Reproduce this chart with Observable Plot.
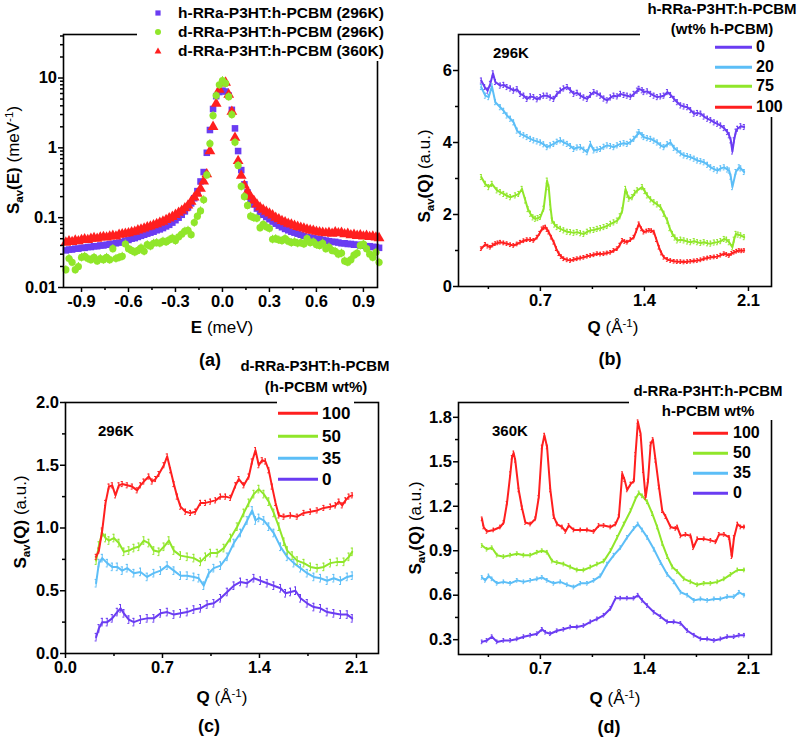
<!DOCTYPE html>
<html><head><meta charset="utf-8">
<script src="https://cdn.jsdelivr.net/npm/d3@7"></script>
<script src="https://cdn.jsdelivr.net/npm/@observablehq/plot@0.6"></script>
<style>
html,body{margin:0;padding:0;background:#fff;}
#fig{position:relative;width:800px;height:739px;overflow:hidden;font-family:"Liberation Sans",Arial,Helvetica,sans-serif;color:#000;background:#fff;}
.t{position:absolute;white-space:nowrap;font-weight:bold;line-height:1;}
.c{transform:translate(-50%,-50%);}
.l{transform:translate(0,-50%);}
.rot{transform:translate(-50%,-50%) rotate(-90deg);}
.n{font-weight:normal;}
.mask{position:absolute;background:#fff;}
.ln{position:absolute;height:2.5px;transform:translate(0,-50%);}
.sb{font-size:0.68em;position:relative;top:0.32em;}
.sp{font-size:0.68em;position:relative;top:-0.5em;}
</style>
</head><body><div id="fig"></div>
<script>
// ---------- colours ----------
const cPurple = "#6a3cf2", cBlue = "#5cbef7", cGreen = "#90e62a", cRed = "#ff1f1f";

// ---------- panel (a): S_av(E) ----------
const eGrid = [-1.00,-0.98,-0.96,-0.94,-0.92,-0.90,-0.88,-0.86,-0.84,-0.82,-0.80,-0.78,-0.76,-0.74,-0.72,-0.70,-0.68,-0.66,-0.64,-0.62,-0.60,-0.58,-0.56,-0.54,-0.52,-0.50,-0.48,-0.46,-0.44,-0.42,-0.40,-0.38,-0.36,-0.34,-0.32,-0.30,-0.28,-0.26,-0.24,-0.22,-0.20,-0.18,-0.16,-0.14,-0.12,-0.10,-0.08,-0.06,-0.04,-0.02,0.00,0.02,0.04,0.06,0.08,0.10,0.12,0.14,0.16,0.18,0.20,0.22,0.24,0.26,0.28,0.30,0.32,0.34,0.36,0.38,0.40,0.42,0.44,0.46,0.48,0.50,0.52,0.54,0.56,0.58,0.60,0.62,0.64,0.66,0.68,0.70,0.72,0.74,0.76,0.78,0.80,0.82,0.84,0.86,0.88,0.90,0.92,0.94,0.96,0.98,1.00];
const aH296 = [0.034,0.035,0.035,0.036,0.036,0.037,0.037,0.038,0.038,0.039,0.039,0.040,0.040,0.041,0.042,0.042,0.043,0.044,0.045,0.047,0.048,0.050,0.051,0.053,0.055,0.057,0.059,0.061,0.063,0.066,0.068,0.071,0.075,0.079,0.085,0.092,0.100,0.110,0.123,0.140,0.160,0.190,0.240,0.330,0.450,0.850,1.800,3.600,5.500,6.300,6.600,6.400,5.600,3.500,1.900,0.900,0.480,0.300,0.230,0.185,0.155,0.135,0.120,0.110,0.102,0.095,0.088,0.082,0.077,0.073,0.069,0.066,0.063,0.061,0.059,0.057,0.055,0.053,0.052,0.051,0.050,0.049,0.048,0.047,0.046,0.045,0.045,0.044,0.043,0.043,0.042,0.042,0.041,0.041,0.040,0.040,0.039,0.039,0.038,0.038,0.037];
const aD296 = [0.018,0.026,0.023,0.018,0.020,0.027,0.028,0.026,0.025,0.027,0.024,0.026,0.025,0.027,0.025,0.036,0.026,0.027,0.028,0.042,0.036,0.034,0.032,0.034,0.037,0.033,0.041,0.039,0.043,0.044,0.043,0.046,0.045,0.048,0.051,0.047,0.053,0.058,0.064,0.066,0.057,0.085,0.105,0.125,0.180,0.410,1.150,2.900,5.600,8.000,9.200,8.400,5.400,3.000,1.200,0.560,0.280,0.200,0.150,0.105,0.100,0.098,0.072,0.080,0.074,0.070,0.049,0.050,0.048,0.047,0.050,0.046,0.044,0.045,0.043,0.044,0.042,0.050,0.044,0.045,0.041,0.040,0.043,0.036,0.038,0.034,0.033,0.030,0.031,0.024,0.023,0.025,0.029,0.031,0.040,0.042,0.036,0.030,0.027,0.032,0.023];
const aD360 = [0.044,0.046,0.045,0.047,0.046,0.048,0.049,0.048,0.050,0.051,0.050,0.052,0.053,0.052,0.054,0.055,0.054,0.057,0.058,0.059,0.060,0.062,0.063,0.066,0.068,0.070,0.073,0.075,0.078,0.081,0.085,0.088,0.093,0.098,0.103,0.110,0.118,0.126,0.137,0.150,0.170,0.195,0.220,0.260,0.330,0.420,0.900,2.000,4.300,6.800,8.400,8.600,5.800,3.300,1.400,0.650,0.400,0.290,0.235,0.200,0.175,0.155,0.140,0.130,0.122,0.115,0.108,0.100,0.095,0.090,0.086,0.082,0.080,0.077,0.074,0.072,0.070,0.068,0.066,0.065,0.063,0.062,0.061,0.060,0.061,0.059,0.062,0.060,0.061,0.058,0.059,0.056,0.057,0.055,0.056,0.054,0.055,0.053,0.054,0.052,0.051];
const aLegend = ["h-RRa-P3HT:h-PCBM (296K)","d-RRa-P3HT:h-PCBM (296K)","d-RRa-P3HT:h-PCBM (360K)"];
const aXTicks = [-0.9,-0.6,-0.3,0,0.3,0.6,0.9], aXMinor = [-0.75,-0.45,-0.15,0.15,0.45,0.75];
const aYTicks = [0.01,0.1,1,10];
const aYMinor = [0.02,0.03,0.04,0.05,0.06,0.07,0.08,0.09,0.2,0.3,0.4,0.5,0.6,0.7,0.8,0.9,2,3,4,5,6,7,8,9,20,30,40];

// ---------- panel (b): h-RRa-P3HT:h-PCBM, 296K ----------
const b0 = [[0.302,5.72],[0.325,5.54],[0.345,5.44],[0.363,5.63],[0.381,5.92],[0.397,5.68],[0.430,5.58],[0.453,5.60],[0.475,5.54],[0.498,5.50],[0.520,5.44],[0.543,5.48],[0.565,5.35],[0.588,5.30],[0.610,5.21],[0.633,5.28],[0.655,5.26],[0.678,5.20],[0.700,5.26],[0.722,5.30],[0.745,5.30],[0.767,5.25],[0.790,5.21],[0.812,5.35],[0.835,5.44],[0.857,5.50],[0.880,5.54],[0.902,5.45],[0.925,5.35],[0.947,5.38],[0.970,5.30],[0.992,5.25],[1.015,5.21],[1.037,5.32],[1.060,5.40],[1.082,5.36],[1.104,5.30],[1.127,5.22],[1.149,5.17],[1.172,5.25],[1.194,5.30],[1.217,5.28],[1.239,5.35],[1.262,5.32],[1.284,5.30],[1.307,5.27],[1.329,5.35],[1.352,5.44],[1.363,5.49],[1.385,5.45],[1.396,5.40],[1.419,5.42],[1.442,5.35],[1.464,5.30],[1.486,5.26],[1.509,5.28],[1.531,5.30],[1.554,5.40],[1.576,5.32],[1.599,5.21],[1.621,5.12],[1.644,5.03],[1.666,5.00],[1.689,4.98],[1.711,4.90],[1.734,4.80],[1.756,4.82],[1.779,4.80],[1.801,4.72],[1.824,4.66],[1.846,4.62],[1.869,4.56],[1.891,4.52],[1.913,4.47],[1.936,4.40],[1.958,4.29],[1.970,4.20],[1.981,4.06],[1.992,3.75],[2.003,4.06],[2.015,4.30],[2.026,4.38],[2.048,4.45],[2.071,4.43]];
const b20 = [[0.302,5.54],[0.329,5.30],[0.352,5.26],[0.374,5.56],[0.397,5.12],[0.430,4.98],[0.453,4.88],[0.475,4.75],[0.498,4.66],[0.520,4.56],[0.543,4.33],[0.565,4.24],[0.588,4.20],[0.610,4.15],[0.633,4.10],[0.655,4.06],[0.678,4.03],[0.700,4.00],[0.722,3.95],[0.745,3.87],[0.767,3.92],[0.790,3.96],[0.812,4.02],[0.835,4.06],[0.857,4.00],[0.880,3.96],[0.902,3.90],[0.925,3.82],[0.947,3.86],[0.970,3.87],[0.992,3.80],[1.015,3.73],[1.037,3.96],[1.060,3.78],[1.082,3.80],[1.104,3.82],[1.127,3.88],[1.149,3.92],[1.172,3.90],[1.194,3.87],[1.217,3.92],[1.239,3.96],[1.262,3.98],[1.284,3.96],[1.307,4.02],[1.329,4.10],[1.352,4.22],[1.363,4.29],[1.385,4.20],[1.396,4.15],[1.419,4.12],[1.442,4.10],[1.464,4.05],[1.486,4.00],[1.509,3.92],[1.531,3.87],[1.554,3.95],[1.576,4.00],[1.599,3.85],[1.621,3.78],[1.644,3.70],[1.666,3.64],[1.689,3.62],[1.711,3.59],[1.734,3.55],[1.756,3.50],[1.779,3.48],[1.801,3.45],[1.824,3.38],[1.846,3.31],[1.869,3.26],[1.891,3.22],[1.913,3.28],[1.936,3.31],[1.958,3.25],[1.970,3.22],[1.981,3.05],[1.992,2.76],[2.015,3.18],[2.037,3.31],[2.048,3.28],[2.071,3.18]];
const b75 = [[0.302,3.04],[0.329,2.85],[0.352,2.76],[0.374,2.85],[0.408,2.67],[0.430,2.62],[0.453,2.57],[0.475,2.52],[0.498,2.48],[0.531,2.53],[0.554,2.57],[0.576,2.71],[0.599,2.39],[0.616,2.15],[0.633,2.02],[0.650,1.92],[0.666,1.88],[0.683,1.90],[0.700,1.93],[0.722,2.16],[0.745,2.94],[0.756,2.76],[0.768,2.20],[0.779,1.83],[0.795,1.72],[0.812,1.65],[0.835,1.60],[0.857,1.56],[0.880,1.52],[0.902,1.51],[0.925,1.49],[0.947,1.51],[0.970,1.48],[0.992,1.46],[1.015,1.52],[1.037,1.56],[1.060,1.57],[1.082,1.60],[1.104,1.62],[1.127,1.65],[1.149,1.68],[1.172,1.74],[1.194,1.78],[1.217,1.83],[1.236,1.95],[1.251,2.11],[1.273,2.71],[1.285,2.55],[1.296,2.44],[1.318,2.48],[1.335,2.60],[1.352,2.67],[1.385,2.76],[1.402,2.65],[1.419,2.53],[1.442,2.42],[1.464,2.34],[1.486,2.28],[1.509,2.20],[1.531,2.02],[1.554,1.83],[1.570,1.62],[1.588,1.46],[1.605,1.36],[1.621,1.28],[1.644,1.30],[1.666,1.28],[1.689,1.25],[1.711,1.23],[1.734,1.26],[1.756,1.23],[1.779,1.21],[1.801,1.23],[1.824,1.20],[1.846,1.19],[1.869,1.22],[1.891,1.23],[1.913,1.26],[1.936,1.32],[1.953,1.30],[1.970,1.23],[1.992,1.09],[2.003,1.30],[2.015,1.46],[2.030,1.44],[2.048,1.42],[2.071,1.37]];
const b100 = [[0.302,1.05],[0.329,1.17],[0.346,1.12],[0.363,1.09],[0.380,1.15],[0.397,1.19],[0.413,1.21],[0.430,1.23],[0.453,1.21],[0.475,1.19],[0.498,1.16],[0.520,1.14],[0.543,1.18],[0.565,1.23],[0.588,1.27],[0.610,1.30],[0.633,1.30],[0.655,1.28],[0.678,1.37],[0.695,1.48],[0.711,1.60],[0.722,1.63],[0.734,1.65],[0.745,1.58],[0.756,1.51],[0.773,1.37],[0.790,1.23],[0.807,1.05],[0.824,0.91],[0.840,0.83],[0.857,0.77],[0.880,0.74],[0.902,0.72],[0.925,0.75],[0.947,0.77],[0.970,0.79],[0.992,0.81],[1.015,0.84],[1.037,0.86],[1.060,0.88],[1.082,0.91],[1.104,0.90],[1.127,0.91],[1.149,0.93],[1.172,0.95],[1.194,1.00],[1.217,1.05],[1.234,1.15],[1.251,1.28],[1.267,1.25],[1.284,1.23],[1.307,1.30],[1.329,1.37],[1.346,1.55],[1.363,1.74],[1.380,1.60],[1.396,1.51],[1.414,1.54],[1.431,1.56],[1.447,1.55],[1.464,1.51],[1.481,1.30],[1.498,1.09],[1.514,0.93],[1.531,0.81],[1.554,0.75],[1.576,0.72],[1.599,0.70],[1.621,0.69],[1.644,0.69],[1.666,0.68],[1.689,0.69],[1.711,0.70],[1.734,0.71],[1.756,0.72],[1.779,0.74],[1.801,0.77],[1.824,0.79],[1.846,0.81],[1.869,0.82],[1.891,0.83],[1.913,0.87],[1.936,0.91],[1.953,0.89],[1.970,0.86],[1.987,0.92],[2.003,0.95],[2.020,0.98],[2.037,1.00],[2.054,0.99],[2.071,1.00]];
const bKeys = ["0","20","75","100"];
const qTicks = [0.7,1.4,2.1], qMinor = [0.35,1.05,1.75];
const bYTicks = [0,2,4,6], bYMinor = [1,3,5];

// ---------- panel (c): d-RRa-P3HT:h-PCBM, 296K ----------
const c100 = [[0.221,0.77],[0.241,0.82],[0.265,0.98],[0.289,1.20],[0.313,1.33],[0.337,1.34],[0.361,1.26],[0.385,1.34],[0.409,1.35],[0.445,1.34],[0.481,1.33],[0.517,1.30],[0.541,1.34],[0.565,1.37],[0.601,1.41],[0.625,1.37],[0.650,1.39],[0.674,1.43],[0.710,1.50],[0.734,1.57],[0.758,1.46],[0.782,1.35],[0.806,1.25],[0.830,1.17],[0.866,1.13],[0.902,1.12],[0.938,1.13],[0.974,1.20],[1.010,1.20],[1.046,1.21],[1.083,1.22],[1.119,1.25],[1.155,1.25],[1.191,1.24],[1.227,1.34],[1.251,1.39],[1.287,1.34],[1.323,1.41],[1.347,1.53],[1.371,1.62],[1.395,1.50],[1.419,1.54],[1.443,1.53],[1.467,1.46],[1.491,1.33],[1.516,1.20],[1.540,1.10],[1.576,1.09],[1.624,1.10],[1.672,1.09],[1.720,1.12],[1.768,1.13],[1.816,1.14],[1.864,1.16],[1.912,1.17],[1.949,1.18],[1.973,1.21],[1.997,1.18],[2.021,1.22],[2.045,1.25],[2.069,1.26]];
const c50 = [[0.221,0.74],[0.241,0.86],[0.265,0.96],[0.289,0.92],[0.313,0.90],[0.349,0.92],[0.385,0.88],[0.421,0.81],[0.457,0.82],[0.493,0.84],[0.529,0.85],[0.565,0.90],[0.601,0.88],[0.637,0.82],[0.674,0.81],[0.710,0.85],[0.746,0.90],[0.782,0.82],[0.830,0.78],[0.878,0.77],[0.926,0.76],[0.974,0.73],[1.010,0.77],[1.046,0.80],[1.095,0.80],[1.143,0.84],[1.191,0.92],[1.239,1.01],[1.287,1.12],[1.323,1.20],[1.359,1.27],[1.395,1.31],[1.431,1.27],[1.467,1.21],[1.503,1.12],[1.540,1.01],[1.576,0.89],[1.600,0.82],[1.636,0.78],[1.672,0.74],[1.720,0.72],[1.768,0.69],[1.816,0.68],[1.864,0.69],[1.912,0.72],[1.961,0.73],[2.009,0.73],[2.045,0.77],[2.069,0.81]];
const c35 = [[0.221,0.56],[0.241,0.72],[0.265,0.76],[0.301,0.72],[0.337,0.69],[0.373,0.69],[0.409,0.66],[0.445,0.68],[0.493,0.64],[0.541,0.65],[0.589,0.61],[0.637,0.64],[0.686,0.66],[0.734,0.70],[0.782,0.66],[0.830,0.62],[0.878,0.62],[0.926,0.61],[0.962,0.60],[0.998,0.54],[1.034,0.64],[1.070,0.68],[1.119,0.70],[1.167,0.77],[1.215,0.88],[1.263,0.96],[1.311,1.06],[1.347,1.14],[1.371,1.06],[1.395,1.08],[1.431,1.06],[1.467,1.01],[1.503,0.96],[1.552,0.85],[1.600,0.77],[1.648,0.72],[1.696,0.68],[1.744,0.64],[1.792,0.61],[1.840,0.60],[1.888,0.58],[1.936,0.60],[1.985,0.58],[2.033,0.61],[2.069,0.62]];
const c0 = [[0.221,0.13],[0.241,0.20],[0.265,0.25],[0.301,0.25],[0.337,0.28],[0.373,0.33],[0.397,0.36],[0.421,0.32],[0.457,0.27],[0.493,0.25],[0.541,0.27],[0.589,0.28],[0.637,0.28],[0.686,0.32],[0.734,0.33],[0.782,0.31],[0.830,0.32],[0.878,0.33],[0.926,0.35],[0.974,0.36],[1.022,0.39],[1.070,0.40],[1.119,0.44],[1.167,0.49],[1.215,0.54],[1.263,0.57],[1.311,0.56],[1.359,0.60],[1.407,0.58],[1.455,0.56],[1.503,0.54],[1.552,0.52],[1.588,0.48],[1.624,0.49],[1.660,0.50],[1.696,0.44],[1.744,0.40],[1.792,0.37],[1.840,0.36],[1.888,0.33],[1.936,0.32],[1.985,0.31],[2.033,0.31],[2.069,0.28]];
const cKeys = ["100","50","35","0"];
const cXTicks = [0,0.7,1.4,2.1];
const cYTicks = [0,0.5,1,1.5,2], cYMinor = [0.25,0.75,1.25,1.75];

// ---------- panel (d): d-RRa-P3HT:h-PCBM, 360K ----------
const d100 = [[0.307,1.115],[0.318,1.06],[0.340,1.03],[0.385,1.04],[0.430,1.06],[0.453,1.09],[0.475,1.22],[0.498,1.42],[0.509,1.53],[0.520,1.56],[0.531,1.51],[0.554,1.31],[0.576,1.19],[0.599,1.09],[0.633,1.08],[0.666,1.115],[0.689,1.26],[0.711,1.60],[0.727,1.68],[0.745,1.60],[0.767,1.31],[0.790,1.13],[0.812,1.08],[0.846,1.06],[0.869,1.03],[0.891,1.07],[0.925,1.04],[0.970,1.04],[1.015,1.04],[1.060,1.03],[1.093,1.07],[1.127,1.07],[1.172,1.06],[1.206,1.08],[1.228,1.13],[1.251,1.42],[1.266,1.38],[1.284,1.31],[1.307,1.35],[1.329,1.37],[1.340,1.55],[1.356,1.77],[1.374,1.69],[1.392,1.44],[1.408,1.26],[1.424,1.37],[1.442,1.62],[1.457,1.65],[1.475,1.51],[1.498,1.33],[1.520,1.17],[1.543,1.13],[1.576,1.06],[1.610,1.05],[1.621,1.06],[1.644,1.00],[1.678,1.01],[1.711,1.00],[1.729,0.92],[1.756,0.98],[1.801,0.98],[1.846,0.97],[1.880,0.96],[1.902,1.01],[1.936,1.01],[1.970,0.99],[1.988,0.86],[2.003,0.99],[2.026,1.08],[2.048,1.06],[2.071,1.06]];
const d50 = [[0.307,0.935],[0.340,0.91],[0.374,0.92],[0.408,0.87],[0.453,0.86],[0.498,0.87],[0.543,0.88],[0.588,0.87],[0.633,0.87],[0.678,0.89],[0.711,0.90],[0.745,0.89],[0.779,0.83],[0.812,0.82],[0.857,0.81],[0.902,0.79],[0.947,0.77],[0.992,0.77],[1.037,0.79],[1.082,0.81],[1.127,0.83],[1.172,0.90],[1.217,0.99],[1.262,1.08],[1.307,1.17],[1.340,1.25],[1.363,1.29],[1.385,1.27],[1.419,1.23],[1.453,1.15],[1.486,1.06],[1.520,0.95],[1.554,0.86],[1.588,0.79],[1.621,0.76],[1.666,0.71],[1.711,0.69],[1.756,0.67],[1.801,0.68],[1.846,0.68],[1.891,0.69],[1.936,0.71],[1.981,0.74],[2.026,0.77],[2.071,0.77]];
const d35 = [[0.307,0.72],[0.329,0.70],[0.352,0.73],[0.374,0.71],[0.408,0.68],[0.453,0.69],[0.498,0.68],[0.543,0.70],[0.588,0.69],[0.633,0.70],[0.678,0.71],[0.711,0.72],[0.745,0.70],[0.790,0.68],[0.835,0.69],[0.880,0.67],[0.925,0.655],[0.970,0.68],[1.015,0.68],[1.060,0.70],[1.104,0.73],[1.149,0.81],[1.194,0.87],[1.239,0.92],[1.284,0.99],[1.329,1.05],[1.356,1.08],[1.385,1.04],[1.419,0.99],[1.464,0.91],[1.509,0.82],[1.554,0.74],[1.599,0.69],[1.644,0.62],[1.689,0.60],[1.734,0.565],[1.779,0.575],[1.824,0.565],[1.869,0.575],[1.913,0.575],[1.958,0.59],[2.003,0.59],[2.037,0.62],[2.071,0.60]];
const d0 = [[0.307,0.285],[0.340,0.295],[0.374,0.32],[0.408,0.285],[0.453,0.295],[0.498,0.295],[0.543,0.305],[0.588,0.32],[0.633,0.33],[0.678,0.34],[0.711,0.37],[0.734,0.35],[0.767,0.34],[0.812,0.36],[0.857,0.37],[0.902,0.385],[0.947,0.385],[0.992,0.395],[1.037,0.42],[1.082,0.44],[1.127,0.465],[1.172,0.51],[1.206,0.58],[1.239,0.58],[1.284,0.58],[1.329,0.58],[1.356,0.60],[1.385,0.565],[1.419,0.53],[1.464,0.485],[1.509,0.455],[1.554,0.42],[1.599,0.42],[1.644,0.41],[1.689,0.36],[1.734,0.33],[1.779,0.305],[1.824,0.305],[1.869,0.295],[1.913,0.305],[1.958,0.32],[2.003,0.32],[2.037,0.33],[2.071,0.33]];
const dKeys = ["100","50","35","0"];
const dYTicks = [0.3,0.6,0.9,1.2,1.5,1.8], dYMinor = [0.45,0.75,1.05,1.35,1.65];

// ---------- helpers ----------
const fig = document.getElementById("fig");
const FONT = '"Liberation Sans", Arial, Helvetica, sans-serif';
const f1 = d => d.toFixed(1);

function axes(xT, xM, yT, yM, xf, yf) {
  const common = {label: null, strokeWidth: 1.5, fontSize: 16.5, fontWeight: "bold"};
  return [
    Plot.axisX({...common, ticks: xT, tickSize: 5, tickPadding: 3, tickFormat: xf}),
    Plot.axisX({...common, ticks: xM, tickSize: 3, tickFormat: () => ""}),
    Plot.axisY({...common, ticks: yT, tickSize: 5, tickPadding: 1.5, tickFormat: yf}),
    Plot.axisY({...common, ticks: yM, tickSize: 3, tickFormat: () => ""}),
    Plot.frame({strokeWidth: 1.6})
  ];
}
function place(svg, left, top) {
  svg.style.position = "absolute";
  svg.style.left = left + "px";
  svg.style.top = top + "px";
  fig.appendChild(svg);
}
const baseStyle = {fontFamily: FONT, fontSize: "16.5px", fontWeight: "bold", background: "transparent", overflow: "visible", color: "#000"};
function seriesMarks(data, color, err, cap) {
  return [
    Plot.ruleX(data, {x: d => d[0], y1: d => d[1] - err, y2: d => d[1] + err, stroke: color, strokeWidth: 1}),
    Plot.ruleY(data, {y: d => d[1] + err, x1: d => d[0] - cap, x2: d => d[0] + cap, stroke: color, strokeWidth: 1}),
    Plot.ruleY(data, {y: d => d[1] - err, x1: d => d[0] - cap, x2: d => d[0] + cap, stroke: color, strokeWidth: 1}),
    Plot.line(data, {x: d => d[0], y: d => d[1], stroke: color, strokeWidth: 2})
  ];
}

// ---------- draw (a) ----------
const aRows = eGrid.map((e, i) => ({e, h296: aH296[i], d296: aD296[i], d360: aD360[i]}));
place(Plot.plot({
  width: 400, height: 370, marginLeft: 63, marginRight: 23, marginTop: 34, marginBottom: 83,
  style: baseStyle,
  x: {domain: [-1.015, 0.99]},
  y: {type: "log", domain: [0.01, 42]},
  marks: [
    Plot.dot(aRows, {x: "e", y: "h296", symbol: "square", r: 3.7, fill: cPurple, stroke: null}),
    Plot.dot(aRows, {x: "e", y: "d360", symbol: "triangle", r: 4, fill: cRed, stroke: null}),
    Plot.ruleX(aRows, {x: "e", y1: d => d.d296 * 0.86, y2: d => d.d296 * 1.14, stroke: cGreen, strokeWidth: 1}),
    Plot.dot(aRows, {x: "e", y: "d296", symbol: "circle", r: 3.6, fill: cGreen, stroke: null}),
    ...axes(aXTicks, aXMinor, aYTicks, aYMinor, f1, d => String(d))
  ]
}), 0, 0);

// ---------- draw (b) ----------
place(Plot.plot({
  width: 400, height: 370, marginLeft: 58, marginRight: 29, marginTop: 34, marginBottom: 84,
  style: baseStyle,
  x: {domain: [0.149, 2.255]},
  y: {domain: [0, 7]},
  marks: [
    ...seriesMarks(b0, cPurple, 0.07, 0.006), ...seriesMarks(b20, cBlue, 0.07, 0.006),
    ...seriesMarks(b75, cGreen, 0.07, 0.006), ...seriesMarks(b100, cRed, 0.05, 0.006),
    ...axes(qTicks, qMinor, bYTicks, bYMinor, f1, d => String(d))
  ]
}), 400, 0);

// ---------- draw (c) ----------
place(Plot.plot({
  width: 400, height: 369, marginLeft: 65, marginRight: 22, marginTop: 32, marginBottom: 86,
  style: baseStyle,
  x: {domain: [0, 2.259]},
  y: {domain: [0, 2]},
  marks: [
    ...seriesMarks(c0, cPurple, 0.03, 0.007), ...seriesMarks(c35, cBlue, 0.03, 0.007),
    ...seriesMarks(c50, cGreen, 0.03, 0.007), ...seriesMarks(c100, cRed, 0.02, 0.007),
    ...axes(cXTicks, qMinor, cYTicks, cYMinor, f1, f1)
  ]
}), 0, 370);

// ---------- draw (d) ----------
place(Plot.plot({
  width: 400, height: 369, marginLeft: 58, marginRight: 29, marginTop: 32, marginBottom: 85,
  style: baseStyle,
  x: {domain: [0.149, 2.255]},
  y: {domain: [0.2, 1.9]},
  marks: [
    ...seriesMarks(d0, cPurple, 0.012, 0.005), ...seriesMarks(d35, cBlue, 0.012, 0.005),
    ...seriesMarks(d50, cGreen, 0.012, 0.005), ...seriesMarks(d100, cRed, 0.012, 0.005),
    ...axes(qTicks, qMinor, dYTicks, dYMinor, f1, f1)
  ]
}), 400, 370);

// ---------- overlays: masks, legends, titles ----------
function mask(l, t, w, h) { const m = document.createElement("div"); m.className = "mask"; Object.assign(m.style, {left: l+"px", top: t+"px", width: w+"px", height: h+"px"}); fig.appendChild(m); }
function txt(html, x, y, size, cls) { const d = document.createElement("div"); d.className = "t " + cls; d.innerHTML = html; Object.assign(d.style, {left: x+"px", top: y+"px", fontSize: size+"px"}); fig.appendChild(d); return d; }
function seg(x1, x2, y, color) { const d = document.createElement("div"); d.className = "ln"; Object.assign(d.style, {left: x1+"px", top: y+"px", width: (x2-x1)+"px", background: color}); fig.appendChild(d); }
function marker(shape, x, y, color) {
  const s = document.createElementNS("http://www.w3.org/2000/svg", "svg");
  s.setAttribute("width", 10); s.setAttribute("height", 10);
  Object.assign(s.style, {position: "absolute", left: (x-5)+"px", top: (y-5)+"px"});
  s.innerHTML = shape === "square" ? `<rect x="2.4" y="2.4" width="5.2" height="5.2" fill="${color}"/>`
    : shape === "circle" ? `<circle cx="5" cy="5" r="3" fill="${color}"/>`
    : `<path d="M5,1.6 L8.4,7.6 L1.6,7.6 Z" fill="${color}"/>`;
  fig.appendChild(s);
}

// (a) legend
mask(137, 0, 263, 61);
const aCols = [cPurple, cGreen, cRed], aShapes = ["square","circle","triangle"], aRowY = [13, 32, 51];
aLegend.forEach((s, i) => { marker(aShapes[i], 158, aRowY[i], aCols[i]); txt(s, 178, aRowY[i], 15.5, "l"); });

// (b) legend
mask(640, 31, 136, 6); mask(767, 31, 9, 86);
txt("h-RRa-P3HT:h-PCBM", 722, 8, 15, "c");
txt("(wt% h-PCBM)", 722, 28, 15, "c");
const bCols = [cPurple, cBlue, cGreen, cRed], bRowY = [47, 67, 86, 107];
bKeys.forEach((k, i) => { seg(715, 752, bRowY[i], bCols[i]); txt(k, 756, bRowY[i], 16, "l"); });

// (c) legend
mask(277, 399, 77, 6);
txt("d-RRa-P3HT:h-PCBM", 315, 365, 15, "c");
txt("(h-PCBM wt%)", 316, 386, 15, "c");
const cCols = [cRed, cGreen, cBlue, cPurple], cRowY = [413, 436, 458, 479];
cKeys.forEach((k, i) => { seg(278, 318, cRowY[i], cCols[i]); txt(k, 322, cRowY[i], 17, "l"); });

// (d) legend
mask(629, 399, 147, 6); mask(767, 399, 9, 21);
txt("d-RRa-P3HT:h-PCBM", 708, 390, 15, "c");
txt("h-PCBM wt%", 708, 410, 15, "c");
const dRowY = [433, 453, 473, 493];
dKeys.forEach((k, i) => { seg(693, 728, dRowY[i], cCols[i]); txt(k, 733, dRowY[i], 16, "l"); });

// temperature labels
txt("296K", 493, 52, 15, "l");
txt("296K", 98, 430, 15, "l");
txt("360K", 492, 430, 15, "l");

// axis titles
const qTitle = 'Q <span class="n">(Å<span class="sp">-1</span>)</span>';
txt('E <span class="n">(meV)</span>', 222, 327, 17, "c");
txt(qTitle, 613, 327, 17, "c");
txt(qTitle, 222, 697, 17, "c");
txt(qTitle, 615, 698, 17, "c");
txt('S<span class="sb">av</span>(E) <span class="n">(meV<span class="sp">-1</span>)</span>', 13, 160, 17, "rot");
const sq = 'S<span class="sb">av</span>(Q) <span class="n">(a.u.)</span>';
txt(sq, 424, 176, 17, "rot");
txt(sq, 20, 522, 17, "rot");
txt(sq, 415, 528, 17, "rot");

// panel labels
txt("(a)", 210, 360, 18, "c");
txt("(b)", 610, 359, 18, "c");
txt("(c)", 209, 726, 18, "c");
txt("(d)", 609, 727, 18, "c");
</script>
</body></html>
